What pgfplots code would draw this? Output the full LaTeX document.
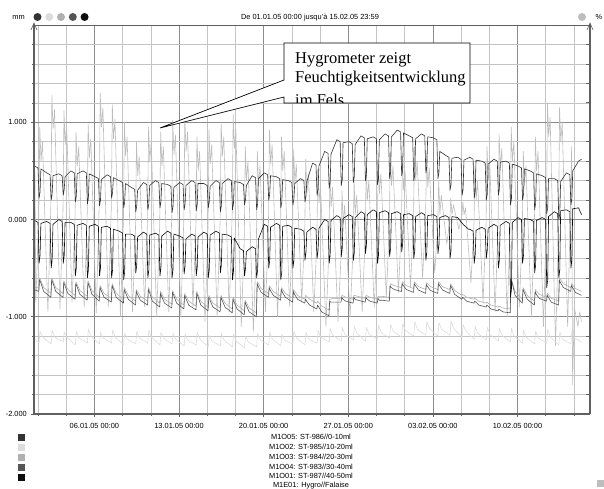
\documentclass[border=0pt]{standalone}
\usepackage{fontspec}
\setmainfont{Liberation Sans}
\newfontfamily\seriffont{Liberation Serif}
\usepackage{pgfplots}
\pgfplotsset{compat=1.18}
\usetikzlibrary{arrows.meta}
\definecolor{cA}{HTML}{333333}
\definecolor{cB}{HTML}{0D0D0D}
\definecolor{cC}{HTML}{555555}
\definecolor{cD}{HTML}{B0B0B0}
\definecolor{cE}{HTML}{DCDCDC}
\definecolor{cF}{HTML}{BDBDBD}
\definecolor{gridD}{HTML}{8C8C8C}
\definecolor{gridL}{HTML}{C4C4C4}
\definecolor{axisC}{HTML}{606060}
\newcommand{\smallf}{\fontsize{7.4}{8}\selectfont}
\begin{document}
\begin{tikzpicture}
\path[use as bounding box] (0pt,0pt) rectangle (604pt,488pt);
\begin{axis}[
  at={(34pt,74pt)}, anchor=south west, scale only axis,
  width=556pt, height=389pt,
  xmin=0, xmax=46, ymin=-2, ymax=2,
  axis line style={draw=none},
  grid=both,
  major grid style={draw=gridD, line width=0.6pt},
  minor grid style={draw=gridL, line width=0.6pt},
  xtick={5,12,19,26,33,40},
  xticklabels={06.01.05 00:00,13.01.05 00:00,20.01.05 00:00,27.01.05 00:00,03.02.05 00:00,10.02.05 00:00},
  minor xtick={0.3333,2.6667,7.3333,9.6667,14.3333,16.6667,21.3333,23.6667,28.3333,30.6667,35.3333,37.6667,42.3333,44.6667},
  ytick={-2,-1,0,1},
  yticklabels={-2.000,-1.000,0.000,1.000},
  minor ytick={-1.8,-1.6,-1.4,-1.2,-0.8,-0.6,-0.4,-0.2,0.2,0.4,0.6,0.8,1.2,1.4,1.6,1.8},
  xtick pos=bottom, ytick pos=left, tick align=outside,
  major tick length=3pt, minor tick length=2pt,
  tick style={draw=axisC, line width=0.6pt},
  ticklabel style={font=\smallf},
  xticklabel style={anchor=base, yshift=-11.7pt, inner sep=0pt},
  yticklabel style={anchor=east, xshift=-4pt, inner sep=0pt},
  every axis plot/.append style={line width=0.6pt, line join=round},
]
% Hygro (M1E01)
\addplot[cF] coordinates {
(0.00,0.62)(0.08,0.45)
(0.15,-0.85)(0.40,0.05)(0.48,0.95)(0.58,0.60)(0.70,0.80)
(1.15,-0.95)(1.40,0.17)(1.48,1.28)(1.58,0.93)(1.70,1.13)
(2.15,-0.92)(2.40,0.10)(2.48,1.12)(2.58,0.77)(2.70,0.97)
(3.15,-0.85)(3.40,0.03)(3.48,0.90)(3.58,0.55)(3.70,0.75)
(4.15,-0.90)(4.40,0.04)(4.48,0.98)(4.58,0.63)(4.70,0.83)
(5.15,-0.96)(5.40,0.17)(5.48,1.30)(5.58,0.95)(5.70,1.15)
(6.15,-0.90)(6.40,0.14)(6.48,1.18)(6.58,0.83)(6.70,1.03)
(7.15,-1.00)(7.40,0.00)(7.48,1.00)(7.58,0.65)(7.70,0.85)
(8.15,-0.95)(8.40,-0.08)(8.48,0.80)(8.58,0.45)(8.70,0.65)
(9.15,-0.90)(9.40,0.03)(9.48,0.95)(9.58,0.60)(9.70,0.80)
(10.15,-1.00)(10.40,-0.05)(10.48,0.90)(10.58,0.55)(10.70,0.75)
(11.15,-0.95)(11.40,0.04)(11.48,1.02)(11.58,0.67)(11.70,0.87)
(12.15,-1.00)(12.40,0.03)(12.48,1.05)(12.58,0.70)(12.70,0.90)
(13.15,-0.90)(13.40,-0.03)(13.48,0.85)(13.58,0.50)(13.70,0.70)
(14.15,-1.05)(14.40,-0.07)(14.48,0.92)(14.58,0.57)(14.70,0.77)
(15.15,-1.00)(15.40,0.00)(15.48,1.00)(15.58,0.65)(15.70,0.85)
(16.15,-0.95)(16.40,0.07)(16.48,1.08)(16.58,0.73)(16.70,0.93)
(17.15,-1.10)(17.40,-0.18)(17.48,0.75)(17.58,0.40)(17.70,0.60)
(18.15,-1.15)(18.40,-0.23)(18.48,0.70)(18.58,0.35)(18.70,0.55)
(19.15,-0.95)(19.40,-0.02)(19.48,0.92)(19.58,0.57)(19.70,0.77)
(20.15,-1.00)(20.40,-0.08)(20.48,0.85)(20.58,0.50)(20.70,0.70)
(21.15,-0.90)(21.40,-0.09)(21.48,0.72)(21.58,0.37)(21.70,0.57)
(22.15,-0.85)(22.40,-0.12)(22.48,0.62)(22.58,0.27)(22.70,0.47)
(23.15,-0.95)(23.40,-0.22)(23.48,0.52)(23.58,0.17)(23.70,0.37)
(24.15,-1.10)(24.40,-0.31)(24.48,0.48)(24.58,0.13)(24.70,0.33)
(25.15,-1.05)(25.40,-0.38)(25.48,0.30)(25.58,-0.05)(25.70,0.15)
(26.15,-1.00)(26.40,-0.30)(26.48,0.40)(26.58,0.05)(26.70,0.25)
(27.15,-0.95)(27.40,-0.20)(27.48,0.55)(27.58,0.20)(27.70,0.40)
(28.15,-0.90)(28.40,-0.14)(28.48,0.62)(28.58,0.27)(28.70,0.47)
(29.15,-0.80)(29.40,-0.05)(29.48,0.70)(29.58,0.35)(29.70,0.55)
(30.15,-0.75)(30.40,-0.05)(30.48,0.65)(30.58,0.30)(30.70,0.50)
(31.15,-0.70)(31.40,0.03)(31.48,0.75)(31.58,0.40)(31.70,0.60)
(32.15,-0.60)(32.40,0.04)(32.48,0.68)(32.58,0.33)(32.70,0.53)
(33.15,-0.55)(33.40,-0.08)(33.48,0.40)(33.58,0.05)(33.70,0.25)
(34.15,-0.25)(34.40,-0.02)(34.48,0.22)(34.58,0.05)(34.70,0.15)
(35.15,-0.10)(35.40,0.04)(35.48,0.18)(35.58,0.05)(35.70,0.12)
(36.15,-0.65)(36.40,-0.05)(36.48,0.55)(36.58,0.20)(36.70,0.40)
(37.15,-0.85)(37.40,-0.05)(37.48,0.75)(37.58,0.40)(37.70,0.60)
(38.15,-0.95)(38.40,-0.04)(38.48,0.88)(38.58,0.53)(38.70,0.73)
(39.15,-1.00)(39.40,-0.03)(39.48,0.95)(39.58,0.60)(39.70,0.80)
(40.15,-0.90)(40.40,-0.10)(40.48,0.70)(40.58,0.35)(40.70,0.55)
(41.15,-1.00)(41.40,-0.08)(41.48,0.85)(41.58,0.50)(41.70,0.70)
(42.15,-1.10)(42.40,0.05)(42.48,1.20)(42.58,0.85)(42.70,1.05)
(43.15,-1.30)(43.40,-0.08)(43.48,1.15)(43.58,0.80)(43.70,1.00)
(44.15,-1.10)(44.40,0.20)(44.48,0.75)(44.56,-1.70)(44.70,-0.90)
(45.00,-1.10)(45.15,-0.95)(45.30,-1.05)
};
% M1O02
\addplot[cE] coordinates {
(0.00,-1.22)
(0.42,-1.27)(0.50,-1.15)(0.72,-1.21)
(1.42,-1.28)(1.50,-1.14)(1.72,-1.21)
(2.42,-1.26)(2.50,-1.16)(2.72,-1.21)
(3.42,-1.29)(3.50,-1.15)(3.72,-1.22)
(4.42,-1.27)(4.50,-1.13)(4.72,-1.20)
(5.42,-1.28)(5.50,-1.16)(5.72,-1.22)
(6.42,-1.27)(6.50,-1.14)(6.72,-1.21)
(7.42,-1.29)(7.50,-1.17)(7.72,-1.23)
(8.42,-1.28)(8.50,-1.15)(8.72,-1.22)
(9.42,-1.27)(9.50,-1.14)(9.72,-1.21)
(10.42,-1.29)(10.50,-1.16)(10.72,-1.22)
(11.42,-1.28)(11.50,-1.17)(11.72,-1.23)
(12.42,-1.30)(12.50,-1.18)(12.72,-1.24)
(13.42,-1.29)(13.50,-1.16)(13.72,-1.23)
(14.42,-1.31)(14.50,-1.19)(14.72,-1.25)
(15.42,-1.30)(15.50,-1.17)(15.72,-1.24)
(16.42,-1.31)(16.50,-1.18)(16.72,-1.25)
(17.42,-1.32)(17.50,-1.20)(17.72,-1.26)
(18.42,-1.31)(18.50,-1.17)(18.72,-1.24)
(19.42,-1.29)(19.50,-1.16)(19.72,-1.23)
(20.42,-1.30)(20.50,-1.18)(20.72,-1.24)
(21.42,-1.28)(21.50,-1.15)(21.72,-1.22)
(22.42,-1.29)(22.50,-1.16)(22.72,-1.23)
(23.42,-1.27)(23.50,-1.14)(23.72,-1.21)
(24.42,-1.26)(24.50,-1.12)(24.72,-1.19)
(25.42,-1.25)(25.50,-1.11)(25.72,-1.18)
(26.42,-1.24)(26.50,-1.10)(26.72,-1.17)
(27.42,-1.25)(27.50,-1.11)(27.72,-1.18)
(28.42,-1.23)(28.50,-1.09)(28.72,-1.16)
(29.42,-1.22)(29.50,-1.08)(29.72,-1.15)
(30.42,-1.21)(30.50,-1.07)(30.72,-1.14)
(31.42,-1.20)(31.50,-1.05)(31.72,-1.13)
(32.42,-1.19)(32.50,-1.05)(32.72,-1.12)
(33.42,-1.20)(33.50,-1.06)(33.72,-1.13)
(34.42,-1.19)(34.50,-1.04)(34.72,-1.12)
(35.42,-1.21)(35.50,-1.08)(35.72,-1.15)
(36.42,-1.23)(36.50,-1.10)(36.72,-1.17)
(37.42,-1.24)(37.50,-1.11)(37.72,-1.18)
(38.42,-1.25)(38.50,-1.12)(38.72,-1.19)
(39.42,-1.26)(39.50,-1.12)(39.72,-1.20)
(40.42,-1.27)(40.50,-1.14)(40.72,-1.21)
(41.42,-1.28)(41.50,-1.15)(41.72,-1.22)
(42.42,-1.27)(42.50,-1.13)(42.72,-1.21)
(43.42,-1.29)(43.50,-1.16)(43.72,-1.23)
(44.42,-1.28)(44.50,-1.14)(44.72,-1.22)
(45.30,-1.26)
};
% M1O03
\addplot[cD] coordinates {
(0.00,-0.70)
(0.40,-0.70)(0.47,-0.60)(0.80,-0.70)
(1.40,-0.76)(1.47,-0.60)(1.80,-0.70)
(2.40,-0.76)(2.47,-0.63)(2.80,-0.72)
(3.40,-0.78)(3.47,-0.64)(3.80,-0.73)
(4.40,-0.79)(4.47,-0.63)(4.80,-0.73)
(5.40,-0.80)(5.47,-0.68)(5.80,-0.76)
(6.40,-0.81)(6.47,-0.66)(6.80,-0.76)
(7.40,-0.82)(7.47,-0.70)(7.80,-0.78)
(8.40,-0.84)(8.47,-0.72)(8.80,-0.79)
(9.40,-0.84)(9.47,-0.70)(9.80,-0.80)
(10.40,-0.86)(10.47,-0.74)(10.80,-0.82)
(11.40,-0.87)(11.47,-0.73)(11.80,-0.82)
(12.40,-0.88)(12.47,-0.76)(12.80,-0.84)
(13.40,-0.89)(13.47,-0.74)(13.80,-0.84)
(14.40,-0.90)(14.47,-0.78)(14.80,-0.86)
(15.40,-0.91)(15.47,-0.78)(15.80,-0.86)
(16.40,-0.92)(16.47,-0.80)(16.80,-0.88)
(17.40,-0.94)(17.47,-0.83)(17.80,-0.91)
(18.40,-0.96)(18.47,-0.64)(18.80,-0.71)
(19.40,-0.76)(19.47,-0.68)(19.80,-0.74)
(20.40,-0.79)(20.47,-0.70)(20.80,-0.76)
(21.40,-0.81)(21.47,-0.72)(21.80,-0.78)
(22.40,-0.82)(22.47,-0.78)(22.80,-0.82)
(23.40,-0.86)(23.47,-0.84)(23.80,-0.89)
(24.40,-0.93)(24.47,-0.82)(24.80,-0.81)
(25.40,-0.81)(25.47,-0.78)(25.80,-0.80)
(26.40,-0.82)(26.47,-0.78)(26.80,-0.79)
(27.40,-0.81)(27.47,-0.78)(27.80,-0.80)
(28.40,-0.82)(28.47,-0.79)(28.80,-0.79)
(29.40,-0.80)(29.47,-0.66)(29.80,-0.68)
(30.40,-0.70)(30.47,-0.64)(30.80,-0.68)
(31.40,-0.71)(31.47,-0.64)(31.80,-0.69)
(32.40,-0.72)(32.47,-0.65)(32.80,-0.69)
(33.40,-0.72)(33.47,-0.64)(33.80,-0.69)
(34.40,-0.72)(34.47,-0.66)(34.80,-0.73)
(35.40,-0.78)(35.47,-0.77)(35.80,-0.80)
(36.40,-0.82)(36.47,-0.81)(36.80,-0.84)
(37.40,-0.86)(37.47,-0.85)(37.80,-0.88)
(38.40,-0.90)(38.47,-0.89)(38.80,-0.91)
(39.40,-0.92)(39.47,-0.60)(39.80,-0.74)
(40.40,-0.82)(40.47,-0.70)(40.80,-0.78)
(41.40,-0.84)(41.47,-0.72)(41.80,-0.77)
(42.40,-0.80)(42.47,-0.76)(42.80,-0.81)
(43.40,-0.84)(43.47,-0.60)(43.80,-0.66)
(44.40,-0.70)(44.47,-0.66)(44.80,-0.71)
(45.30,-0.74)
};
% M1O04
\addplot[cC] coordinates {
(0.00,-0.72)
(0.40,-0.74)(0.46,-0.62)(0.56,-0.65)(0.80,-0.74)
(1.40,-0.80)(1.46,-0.62)(1.56,-0.65)(1.80,-0.74)
(2.40,-0.80)(2.46,-0.65)(2.56,-0.68)(2.80,-0.76)
(3.40,-0.82)(3.46,-0.66)(3.56,-0.69)(3.80,-0.77)
(4.40,-0.83)(4.46,-0.65)(4.56,-0.68)(4.80,-0.77)
(5.40,-0.84)(5.46,-0.70)(5.56,-0.73)(5.80,-0.80)
(6.40,-0.85)(6.46,-0.68)(6.56,-0.71)(6.80,-0.80)
(7.40,-0.86)(7.46,-0.72)(7.56,-0.75)(7.80,-0.82)
(8.40,-0.88)(8.46,-0.74)(8.56,-0.77)(8.80,-0.83)
(9.40,-0.88)(9.46,-0.72)(9.56,-0.75)(9.80,-0.84)
(10.40,-0.90)(10.46,-0.76)(10.56,-0.79)(10.80,-0.86)
(11.40,-0.91)(11.46,-0.75)(11.56,-0.78)(11.80,-0.86)
(12.40,-0.92)(12.46,-0.78)(12.56,-0.81)(12.80,-0.88)
(13.40,-0.93)(13.46,-0.76)(13.56,-0.79)(13.80,-0.88)
(14.40,-0.94)(14.46,-0.80)(14.56,-0.83)(14.80,-0.90)
(15.40,-0.95)(15.46,-0.80)(15.56,-0.83)(15.80,-0.90)
(16.40,-0.96)(16.46,-0.82)(16.56,-0.85)(16.80,-0.92)
(17.40,-0.98)(17.46,-0.85)(17.56,-0.88)(17.80,-0.95)
(18.40,-1.00)(18.46,-0.66)(18.56,-0.69)(18.80,-0.75)
(19.40,-0.80)(19.46,-0.70)(19.56,-0.73)(19.80,-0.78)
(20.40,-0.83)(20.46,-0.72)(20.56,-0.75)(20.80,-0.80)
(21.40,-0.85)(21.46,-0.74)(21.56,-0.77)(21.80,-0.82)
(22.40,-0.86)(22.46,-0.82)(22.56,-0.84)(22.80,-0.88)
(23.40,-0.92)(23.46,-0.88)(23.56,-0.90)(23.80,-0.95)
(24.40,-0.99)(24.46,-0.84)(24.56,-0.85)(24.80,-0.85)
(25.40,-0.85)(25.46,-0.80)(25.56,-0.82)(25.80,-0.84)
(26.40,-0.86)(26.46,-0.80)(26.56,-0.82)(26.80,-0.83)
(27.40,-0.85)(27.46,-0.80)(27.56,-0.82)(27.80,-0.84)
(28.40,-0.86)(28.46,-0.81)(28.56,-0.83)(28.80,-0.83)
(29.40,-0.84)(29.46,-0.68)(29.56,-0.70)(29.80,-0.72)
(30.40,-0.74)(30.46,-0.66)(30.56,-0.68)(30.80,-0.72)
(31.40,-0.75)(31.46,-0.66)(31.56,-0.68)(31.80,-0.725)
(32.40,-0.76)(32.46,-0.67)(32.56,-0.69)(32.80,-0.73)
(33.40,-0.76)(33.46,-0.66)(33.56,-0.68)(33.80,-0.725)
(34.40,-0.76)(34.46,-0.68)(34.56,-0.70)(34.80,-0.77)
(35.40,-0.82)(35.46,-0.80)(35.56,-0.81)(35.80,-0.84)
(36.40,-0.86)(36.46,-0.84)(36.56,-0.85)(36.80,-0.88)
(37.40,-0.90)(37.46,-0.88)(37.56,-0.89)(37.80,-0.92)
(38.40,-0.94)(38.46,-0.92)(38.56,-0.93)(38.80,-0.95)
(39.40,-0.96)(39.46,-0.62)(39.56,-0.65)(39.80,-0.78)
(40.40,-0.86)(40.46,-0.72)(40.56,-0.75)(40.80,-0.82)
(41.40,-0.88)(41.46,-0.74)(41.56,-0.77)(41.80,-0.81)
(42.40,-0.84)(42.46,-0.78)(42.56,-0.80)(42.80,-0.85)
(43.40,-0.88)(43.46,-0.62)(43.56,-0.65)(43.80,-0.70)
(44.40,-0.74)(44.46,-0.68)(44.56,-0.70)(44.80,-0.75)
(45.30,-0.78)
};
% M1O01
\addplot[cB] coordinates {
(0.00,0.00)
(0.05,-0.01)(0.33,-0.03)(0.42,-0.45)(0.50,-0.37)(0.57,-0.04)
(1.05,-0.02)(1.33,-0.04)(1.42,-0.50)(1.50,-0.42)(1.57,-0.05)
(2.05,0.00)(2.33,-0.02)(2.42,-0.45)(2.50,-0.37)(2.57,-0.03)
(3.05,-0.03)(3.33,-0.05)(3.42,-0.58)(3.50,-0.50)(3.57,-0.06)
(4.05,-0.04)(4.33,-0.06)(4.42,-0.60)(4.50,-0.52)(4.57,-0.07)
(5.05,-0.05)(5.33,-0.07)(5.42,-0.58)(5.50,-0.50)(5.57,-0.08)
(6.05,-0.07)(6.33,-0.09)(6.42,-0.60)(6.50,-0.52)(6.57,-0.10)
(7.05,-0.12)(7.33,-0.14)(7.42,-0.62)(7.50,-0.54)(7.57,-0.15)
(8.05,-0.15)(8.33,-0.17)(8.42,-0.55)(8.50,-0.47)(8.57,-0.18)
(9.05,-0.13)(9.33,-0.15)(9.42,-0.60)(9.50,-0.52)(9.57,-0.16)
(10.05,-0.14)(10.33,-0.16)(10.42,-0.58)(10.50,-0.50)(10.57,-0.17)
(11.05,-0.12)(11.33,-0.14)(11.42,-0.60)(11.50,-0.52)(11.57,-0.15)
(12.05,-0.17)(12.33,-0.19)(12.42,-0.56)(12.50,-0.48)(12.57,-0.20)
(13.05,-0.15)(13.33,-0.17)(13.42,-0.58)(13.50,-0.50)(13.57,-0.18)
(14.05,-0.13)(14.33,-0.15)(14.42,-0.60)(14.50,-0.52)(14.57,-0.16)
(15.05,-0.12)(15.33,-0.14)(15.42,-0.55)(15.50,-0.47)(15.57,-0.15)
(16.05,-0.16)(16.33,-0.18)(16.42,-0.62)(16.50,-0.54)(16.57,-0.19)
(17.05,-0.30)(17.33,-0.32)(17.42,-0.58)(17.50,-0.50)(17.57,-0.33)
(18.05,-0.28)(18.33,-0.30)(18.42,-0.60)(18.50,-0.52)(18.57,-0.20)
(19.05,-0.05)(19.33,-0.07)(19.42,-0.50)(19.50,-0.42)(19.57,-0.08)
(20.05,-0.04)(20.33,-0.06)(20.42,-0.62)(20.50,-0.54)(20.57,-0.07)
(21.05,-0.06)(21.33,-0.08)(21.42,-0.50)(21.50,-0.42)(21.57,-0.09)
(22.05,-0.10)(22.33,-0.12)(22.42,-0.42)(22.50,-0.34)(22.57,-0.13)
(23.05,-0.08)(23.33,-0.10)(23.42,-0.40)(23.50,-0.32)(23.57,-0.09)
(24.05,0.00)(24.33,-0.02)(24.42,-0.45)(24.50,-0.37)(24.57,-0.01)
(25.05,0.04)(25.33,0.02)(25.42,-0.38)(25.50,-0.30)(25.57,0.01)
(26.05,0.05)(26.33,0.03)(26.42,-0.42)(26.50,-0.34)(26.57,0.02)
(27.05,0.08)(27.33,0.06)(27.42,-0.35)(27.50,-0.27)(27.57,0.05)
(28.05,0.10)(28.33,0.08)(28.42,-0.45)(28.50,-0.37)(28.57,0.07)
(29.05,0.09)(29.33,0.07)(29.42,-0.38)(29.50,-0.30)(29.57,0.06)
(30.05,0.08)(30.33,0.06)(30.42,-0.33)(30.50,-0.25)(30.57,0.05)
(31.05,0.06)(31.33,0.04)(31.42,-0.40)(31.50,-0.32)(31.57,0.03)
(32.05,0.07)(32.33,0.05)(32.42,-0.42)(32.50,-0.34)(32.57,0.04)
(33.05,0.05)(33.33,0.03)(33.42,-0.35)(33.50,-0.27)(33.57,0.02)
(34.05,0.04)(34.33,0.02)(34.42,-0.40)(34.50,-0.32)(34.57,0.03)
(35.05,0.02)(35.50,-0.05)(35.95,-0.10)
(36.05,-0.10)(36.33,-0.12)(36.42,-0.45)(36.50,-0.37)(36.57,-0.11)
(37.05,-0.08)(37.33,-0.10)(37.42,-0.40)(37.50,-0.32)(37.57,-0.09)
(38.05,-0.05)(38.33,-0.07)(38.42,-0.50)(38.50,-0.42)(38.57,-0.06)
(39.05,-0.02)(39.33,-0.04)(39.42,-0.80)(39.50,-0.72)(39.57,-0.03)
(40.05,0.02)(40.33,0.00)(40.42,-0.45)(40.50,-0.37)(40.57,0.01)
(41.05,0.00)(41.33,-0.02)(41.42,-0.55)(41.50,-0.47)(41.57,-0.01)
(42.05,0.02)(42.33,0.00)(42.42,-0.70)(42.50,-0.62)(42.57,0.03)
(43.05,0.08)(43.33,0.06)(43.42,-0.60)(43.50,-0.52)(43.57,0.09)
(44.05,0.10)(44.33,0.08)(44.42,-0.50)(44.50,-0.42)(44.57,0.11)
(45.05,0.12)(45.30,0.05)
};
% M1O05
\addplot[cA] coordinates {
(0.00,0.54)(0.05,0.55)(0.33,0.53)(0.42,0.22)(0.50,0.28)(0.57,0.52)
(1.05,0.48)(1.33,0.46)(1.42,0.20)(1.50,0.26)(1.57,0.45)
(2.05,0.47)(2.33,0.45)(2.42,0.25)(2.50,0.31)(2.57,0.44)
(3.05,0.50)(3.33,0.48)(3.42,0.18)(3.50,0.24)(3.57,0.47)
(4.05,0.50)(4.33,0.48)(4.42,0.16)(4.50,0.22)(4.57,0.47)
(5.05,0.44)(5.33,0.42)(5.42,0.14)(5.50,0.20)(5.57,0.41)
(6.05,0.46)(6.33,0.44)(6.42,0.22)(6.50,0.28)(6.57,0.43)
(7.05,0.40)(7.33,0.38)(7.42,0.12)(7.50,0.18)(7.57,0.37)
(8.05,0.33)(8.33,0.31)(8.42,0.08)(8.50,0.14)(8.57,0.30)
(9.05,0.38)(9.33,0.36)(9.42,0.10)(9.50,0.16)(9.57,0.35)
(10.05,0.40)(10.33,0.38)(10.42,0.12)(10.50,0.18)(10.57,0.37)
(11.05,0.36)(11.33,0.34)(11.42,0.07)(11.50,0.13)(11.57,0.33)
(12.05,0.38)(12.33,0.36)(12.42,0.10)(12.50,0.16)(12.57,0.35)
(13.05,0.40)(13.33,0.38)(13.42,0.09)(13.50,0.15)(13.57,0.37)
(14.05,0.37)(14.33,0.35)(14.42,0.12)(14.50,0.18)(14.57,0.34)
(15.05,0.40)(15.33,0.38)(15.42,0.08)(15.50,0.14)(15.57,0.37)
(16.05,0.42)(16.33,0.40)(16.42,0.10)(16.50,0.16)(16.57,0.39)
(17.05,0.38)(17.33,0.36)(17.42,0.15)(17.50,0.21)(17.57,0.35)
(18.05,0.45)(18.33,0.43)(18.42,0.10)(18.50,0.16)(18.57,0.42)
(19.05,0.48)(19.33,0.46)(19.42,0.20)(19.50,0.26)(19.57,0.45)
(20.05,0.44)(20.33,0.42)(20.42,0.12)(20.50,0.18)(20.57,0.41)
(21.05,0.40)(21.33,0.38)(21.42,0.15)(21.50,0.21)(21.57,0.37)
(22.05,0.42)(22.33,0.40)(22.42,0.18)(22.50,0.24)(22.57,0.39)
(23.05,0.58)(23.33,0.56)(23.42,0.25)(23.50,0.31)(23.57,0.55)
(24.05,0.70)(24.33,0.68)(24.42,0.32)(24.50,0.38)(24.57,0.67)
(25.05,0.82)(25.33,0.80)(25.42,0.35)(25.50,0.41)(25.57,0.79)
(26.05,0.80)(26.33,0.78)(26.42,0.38)(26.50,0.44)(26.57,0.77)
(27.05,0.86)(27.33,0.84)(27.42,0.40)(27.50,0.46)(27.57,0.83)
(28.05,0.85)(28.33,0.83)(28.42,0.36)(28.50,0.42)(28.57,0.82)
(29.05,0.88)(29.33,0.86)(29.42,0.42)(29.50,0.48)(29.57,0.85)
(30.05,0.92)(30.33,0.90)(30.42,0.45)(30.50,0.51)(30.57,0.89)
(31.05,0.86)(31.33,0.84)(31.42,0.40)(31.50,0.46)(31.57,0.83)
(32.05,0.88)(32.33,0.86)(32.42,0.48)(32.50,0.54)(32.57,0.85)
(33.05,0.84)(33.33,0.82)(33.42,0.42)(33.50,0.48)(33.57,0.70)
(34.05,0.66)(34.33,0.64)(34.42,0.30)(34.50,0.36)(34.57,0.63)
(35.05,0.64)(35.33,0.62)(35.42,0.25)(35.50,0.31)(35.57,0.61)
(36.05,0.64)(36.33,0.62)(36.42,0.22)(36.50,0.28)(36.57,0.61)
(37.05,0.60)(37.33,0.58)(37.42,0.20)(37.50,0.26)(37.57,0.57)
(38.05,0.62)(38.33,0.60)(38.42,0.25)(38.50,0.31)(38.57,0.59)
(39.05,0.60)(39.33,0.58)(39.42,0.15)(39.50,0.21)(39.57,0.57)
(40.05,0.55)(40.33,0.53)(40.42,0.20)(40.50,0.26)(40.57,0.52)
(41.05,0.50)(41.33,0.48)(41.42,0.10)(41.50,0.16)(41.57,0.47)
(42.05,0.45)(42.33,0.43)(42.42,0.06)(42.50,0.12)(42.57,0.42)
(43.05,0.42)(43.33,0.40)(43.42,0.00)(43.50,0.06)(43.57,0.39)
(44.05,0.48)(44.33,0.46)(44.42,0.15)(44.50,0.21)(44.57,0.50)
(45.05,0.60)(45.30,0.62)
};
\end{axis}
% frame
\draw[draw=axisC, line width=0.8pt] (34pt,463pt) -- (590pt,463pt);
\draw[draw=axisC, line width=1.5pt] (34pt,74pt) -- (590pt,74pt);
\draw[draw=axisC, line width=1.5pt] (34pt,74pt) -- (34pt,464pt);
\draw[draw=axisC, line width=1.5pt] (590pt,74pt) -- (590pt,464pt);
\draw[draw=axisC, line width=0.6pt] (31pt,458pt) -- (34pt,465pt) -- (37pt,458pt);
\draw[draw=axisC, line width=0.6pt] (587pt,458pt) -- (590pt,465pt) -- (593pt,458pt);
\foreach \i in {1,...,19} \draw[draw=axisC, line width=0.6pt] (590pt,{74pt+\i*19.45pt}) -- ++(-4pt,0pt);
% top row
\node[font=\smallf, anchor=base, inner sep=0pt] at (18.5pt,468.3pt) {mm};
\fill[cA] (37.5pt,471pt) circle (4pt);
\fill[cE] (49.3pt,471pt) circle (4pt);
\fill[cD] (61pt,471pt) circle (4pt);
\fill[cC] (72.8pt,471pt) circle (4pt);
\fill[cB] (84.6pt,471pt) circle (4pt);
\node[font=\smallf, anchor=base, inner sep=0pt] at (310pt,468pt) {De 01.01.05 00:00 jusqu'à 15.02.05 23:59};
\fill[cF] (582pt,471pt) circle (4pt);
\node[font=\smallf, anchor=base, inner sep=0pt] at (599pt,468pt) {\%};
% legend
\fill[cA] (18pt,47.5pt) rectangle ++(7pt,7pt);
\fill[cE] (18pt,37.5pt) rectangle ++(7pt,7pt);
\fill[cD] (18pt,27.5pt) rectangle ++(7pt,7pt);
\fill[cC] (18pt,17.5pt) rectangle ++(7pt,7pt);
\fill[cB] (18pt,7.5pt) rectangle ++(7pt,7pt);
\fill[cF] (597pt,1pt) rectangle ++(7pt,7pt);
\node[font=\smallf, anchor=base, inner sep=0pt] at (311pt,48.4pt) {M1O05: ST-986//0-10ml};
\node[font=\smallf, anchor=base, inner sep=0pt] at (311pt,38.6pt) {M1O02: ST-985//10-20ml};
\node[font=\smallf, anchor=base, inner sep=0pt] at (311pt,28.8pt) {M1O03: ST-984//20-30ml};
\node[font=\smallf, anchor=base, inner sep=0pt] at (311pt,19pt) {M1O04: ST-983//30-40ml};
\node[font=\smallf, anchor=base, inner sep=0pt] at (311pt,9.2pt) {M1O01: ST-987//40-50ml};
\node[font=\smallf, anchor=base, inner sep=0pt] at (311pt,0.2pt) {M1E01: Hygro//Falaise};
% annotation
\fill[white] (284pt,445pt) -- (470pt,445pt) -- (470pt,385pt) -- (284pt,385pt) -- (284pt,391pt) -- (160pt,360pt) -- (284pt,408pt) -- cycle;
\begin{scope}
\clip (284pt,385pt) rectangle (470pt,445pt);
\node[font=\seriffont\fontsize{16.5}{18}\selectfont, anchor=base west, inner sep=0pt] at (295pt,424pt) {Hygrometer zeigt};
\node[font=\seriffont\fontsize{16.5}{18}\selectfont, anchor=base west, inner sep=0pt] at (295pt,405.5pt) {Feuchtigkeitsentwicklung};
\node[font=\seriffont\fontsize{16.5}{18}\selectfont, anchor=base west, inner sep=0pt] at (295pt,382pt) {im Fels};
\end{scope}
\draw[black, line width=0.7pt] (284pt,445pt) -- (470pt,445pt) -- (470pt,385pt) -- (284pt,385pt) -- (284pt,391pt) -- (160pt,360pt) -- (284pt,408pt) -- cycle;
\end{tikzpicture}
\end{document}
